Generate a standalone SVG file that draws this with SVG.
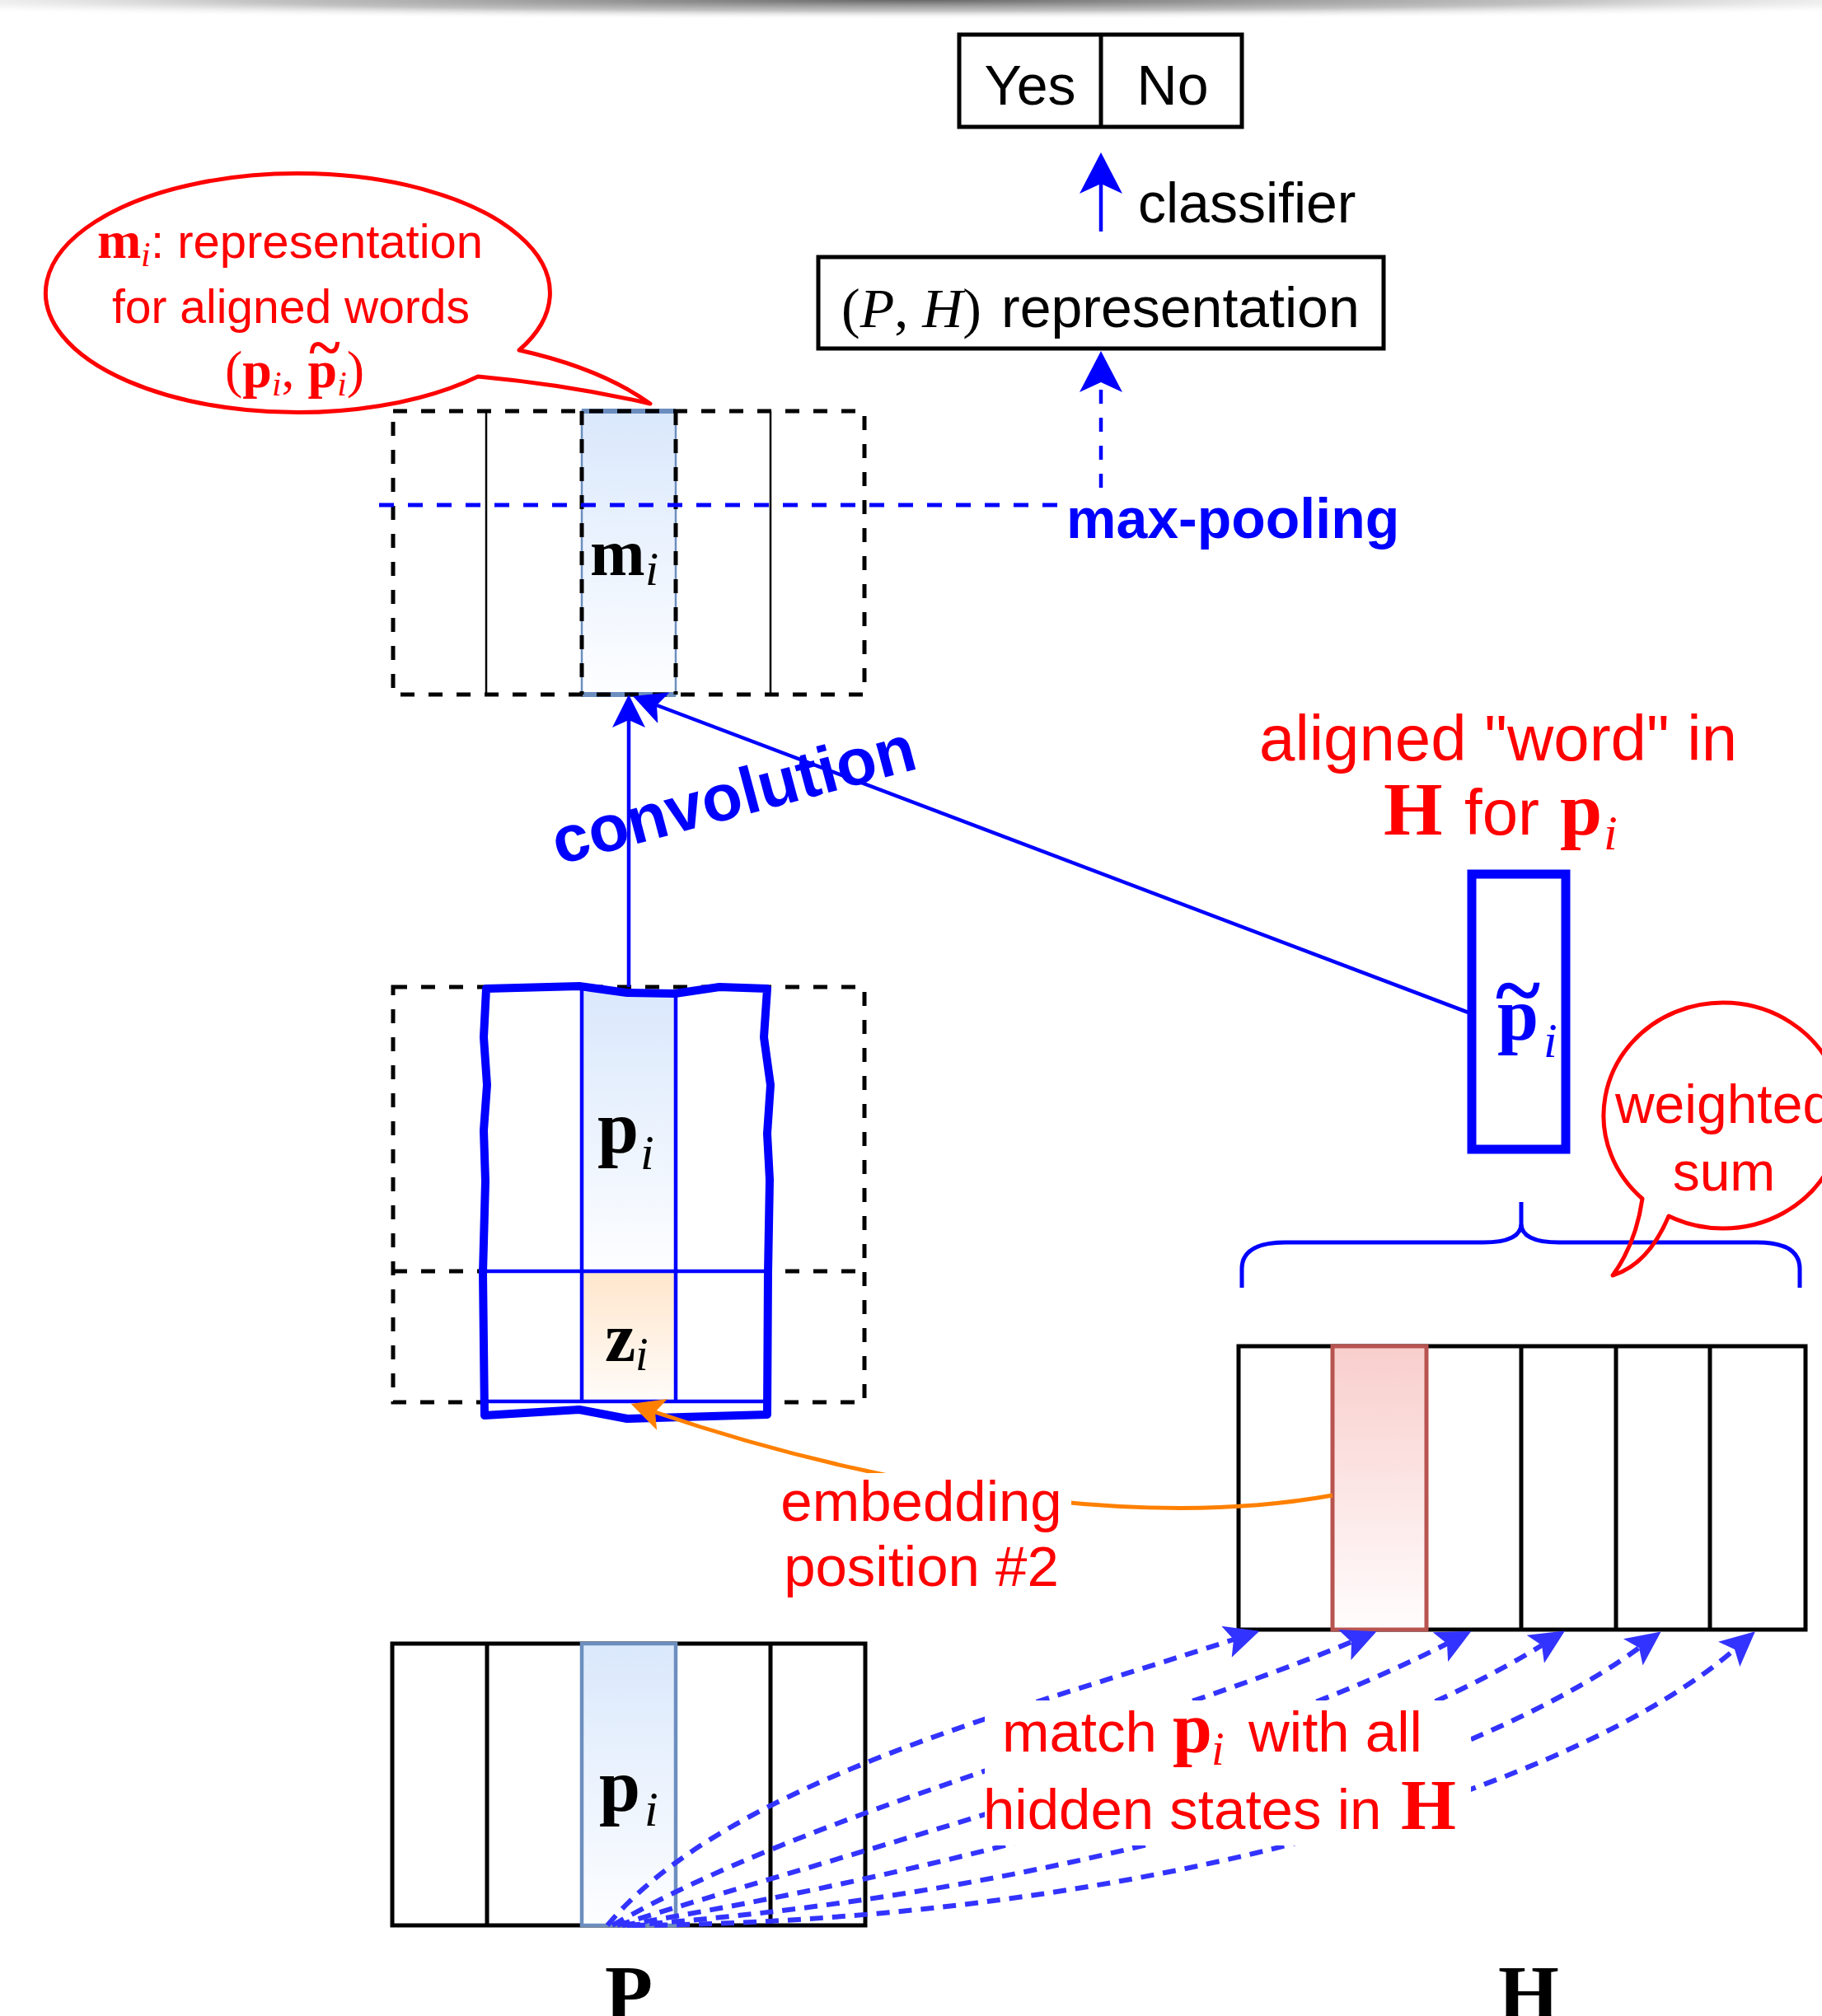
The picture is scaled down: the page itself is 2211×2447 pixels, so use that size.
<svg xmlns="http://www.w3.org/2000/svg" width="2211" height="2447" viewBox="0 0 2211 2447">
<style>
.s{font-family:"Liberation Sans",Arial,sans-serif}
.m{font-family:"Liberation Serif","Times New Roman",serif}
.b{font-weight:bold}
.i{font-style:italic}
.box{fill:#fff;stroke:#000;stroke-width:5}
.ln{stroke:#000;stroke-width:5;fill:none}
.dash{stroke:#000;stroke-width:5;fill:none;stroke-dasharray:17 17}
.bl{stroke:#0000FF;stroke-width:4.5;fill:none}
.match{stroke:#3333FF;stroke-width:6;fill:none;stroke-dasharray:16 11}
.red{fill:#FF0000}
.blue{fill:#0000FF}
</style>
<defs>
<radialGradient id="shadow" cx="0.5" cy="0.5" r="0.5" fx="0.5" fy="0.5">
<stop offset="0" stop-color="#666" stop-opacity="1"/>
<stop offset="0.55" stop-color="#999" stop-opacity="0.6"/>
<stop offset="1" stop-color="#fff" stop-opacity="0"/>
</radialGradient>
<linearGradient id="gBlue" x1="0" y1="0" x2="0" y2="1"><stop offset="0" stop-color="#dae8fc"/><stop offset="1" stop-color="#fdfeff"/></linearGradient>
<linearGradient id="gOrange" x1="0" y1="0" x2="0" y2="1"><stop offset="0" stop-color="#ffe6cc"/><stop offset="1" stop-color="#fffcf9"/></linearGradient>
<linearGradient id="gRed" x1="0" y1="0" x2="0" y2="1"><stop offset="0" stop-color="#f8cecc"/><stop offset="1" stop-color="#fffdfd"/></linearGradient>
<marker id="aBlue" viewBox="0 0 40 40" refX="9" refY="20" markerWidth="40" markerHeight="40" markerUnits="userSpaceOnUse" orient="auto"><path d="M0,0 L40,20 L0,40 L9,20 Z" fill="#0000FF"/></marker>
<marker id="aBlueL" viewBox="0 0 50 52" refX="12" refY="26" markerWidth="50" markerHeight="52" markerUnits="userSpaceOnUse" orient="auto"><path d="M0,0 L50,26 L0,52 L12,26 Z" fill="#0000FF"/></marker>
<marker id="aOrange" viewBox="0 0 40 40" refX="9" refY="20" markerWidth="40" markerHeight="40" markerUnits="userSpaceOnUse" orient="auto"><path d="M0,0 L40,20 L0,40 L9,20 Z" fill="#FF8000"/></marker>
<marker id="aMatch" viewBox="0 0 42 40" refX="9" refY="20" markerWidth="42" markerHeight="40" markerUnits="userSpaceOnUse" orient="auto"><path d="M0,0 L42,20 L0,40 L9,20 Z" fill="#3333FF"/></marker>
</defs>

<rect x="0" y="0" width="2211" height="2447" fill="#fff"/>
<ellipse cx="1105" cy="0" rx="1450" ry="24" fill="url(#shadow)"/>

<g id="yesno">
<rect class="box" x="1164" y="42" width="343" height="112"/>
<line class="ln" x1="1336" y1="42" x2="1336" y2="154"/>
<text class="s" x="1250" y="127" font-size="68" text-anchor="middle">Yes</text>
<text class="s" x="1423" y="127" font-size="68" text-anchor="middle">No</text>
</g>

<g id="ph-rep">
<rect class="box" x="993" y="312" width="686" height="111"/>
<text y="397" font-size="68"><tspan class="m" x="1021">(</tspan><tspan class="m i">P</tspan><tspan class="m">, </tspan><tspan class="m i">H</tspan><tspan class="m">)</tspan><tspan class="s" x="1215">representation</tspan></text>
</g>

<g id="m-grid">
<rect x="706" y="499" width="114" height="344" fill="url(#gBlue)" stroke="#6c8ebf" stroke-width="2.5"/>
<line x1="706" y1="499" x2="820" y2="499" stroke="#6c8ebf" stroke-width="6"/>
<line x1="706" y1="843" x2="820" y2="843" stroke="#6c8ebf" stroke-width="6"/>
<rect class="dash" x="477" y="499" width="572" height="344"/>
<line x1="590" y1="499" x2="590" y2="843" stroke="#000" stroke-width="2.5"/>
<line x1="935" y1="499" x2="935" y2="843" stroke="#000" stroke-width="2.5"/>
<line class="dash" x1="706" y1="499" x2="706" y2="843"/>
<line class="dash" x1="820" y1="499" x2="820" y2="843"/>
<text><tspan class="m b" x="716" y="698" font-size="80">m</tspan><tspan class="m i" x="783" y="710" font-size="58">i</tspan></text>
</g>

<g id="p-window">
<rect class="dash" x="477" y="1198" width="572" height="504"/>
<line class="dash" x1="477" y1="1543" x2="1049" y2="1543"/>
<path d="M590,1200 L703,1197 L761,1205 L819,1206 L873,1198 L931,1200 L927,1259 L935,1317 L931,1376 L934,1432 L932,1545 L931,1717 L761,1722 L703,1711 L588,1718 L586,1545 L589,1434 L587,1372 L591,1317 L587,1259 Z" fill="#fff"/>
<rect x="706" y="1204" width="114" height="339" fill="url(#gBlue)"/>
<rect x="706" y="1543" width="114" height="158" fill="url(#gOrange)"/>
<line class="bl" x1="706" y1="1200" x2="706" y2="1701"/>
<line class="bl" x1="820" y1="1205" x2="820" y2="1701"/>
<line class="bl" x1="586" y1="1543" x2="934" y2="1543"/>
<line class="bl" x1="586" y1="1701" x2="934" y2="1701"/>
<path d="M590,1200 L703,1197 L761,1205 L819,1206 L873,1198 L931,1200 L927,1259 L935,1317 L931,1376 L934,1432 L932,1545 L931,1717 L761,1722 L703,1711 L588,1718 L586,1545 L589,1434 L587,1372 L591,1317 L587,1259 Z" fill="none" stroke="#0000FF" stroke-width="10" stroke-linejoin="round"/>
<text><tspan class="m b" x="725" y="1399" font-size="90">p</tspan><tspan class="m i" x="777" y="1419" font-size="60">i</tspan></text>
<text><tspan class="m b" x="734" y="1652" font-size="84">z</tspan><tspan class="m i" x="771" y="1663" font-size="56">i</tspan></text>
</g>

<g id="p-tilde">
<rect x="1786" y="1061" width="114" height="334" fill="#fff" stroke="#0000FF" stroke-width="11"/>
<text class="m b blue" x="1842" y="1236" font-size="104" text-anchor="middle">~</text>
<text class="blue"><tspan class="m b" x="1817" y="1262" font-size="90">p</tspan><tspan class="m i" x="1873" y="1283" font-size="60">i</tspan></text>
</g>

<g id="H-seq">
<rect class="box" x="1503" y="1634" width="688" height="344"/>
<rect x="1617" y="1634" width="114" height="344" fill="url(#gRed)" stroke="#b85450" stroke-width="5"/>
<line class="ln" x1="1846" y1="1634" x2="1846" y2="1978"/>
<line class="ln" x1="1961" y1="1634" x2="1961" y2="1978"/>
<line class="ln" x1="2075" y1="1634" x2="2075" y2="1978"/>
</g>

<g id="P-seq">
<rect class="box" x="476" y="1995" width="574" height="342"/>
<line class="ln" x1="591" y1="1995" x2="591" y2="2337"/>
<line class="ln" x1="935" y1="1995" x2="935" y2="2337"/>
<rect x="706" y="1995" width="114" height="342" fill="url(#gBlue)" stroke="#6c8ebf" stroke-width="4.5"/>
<text><tspan class="m b" x="727" y="2198" font-size="90">p</tspan><tspan class="m i" x="782" y="2216" font-size="60">i</tspan></text>
</g>

<g id="brace">
<path d="M1507,1563 L1507,1540 Q1507,1508 1560,1508 L1800,1508 Q1846,1508 1846,1485 L1846,1459 M1846,1485 Q1846,1508 1892,1508 L2132,1508 Q2184,1508 2184,1540 L2184,1563" fill="none" stroke="#0000FF" stroke-width="5"/>
</g>

<g id="connectors">
<line class="bl" x1="1336" y1="281" x2="1336" y2="223" marker-end="url(#aBlueL)"/>
<line x1="1336" y1="592" x2="1336" y2="464" stroke="#0000FF" stroke-width="4.5" stroke-dasharray="17 17" marker-end="url(#aBlueL)"/>
<line x1="460" y1="613" x2="1294" y2="613" stroke="#0000FF" stroke-width="5" stroke-dasharray="18 17"/>
<line class="bl" x1="763" y1="1198" x2="763" y2="874" marker-end="url(#aBlue)"/>
<line class="bl" x1="1782" y1="1229" x2="797" y2="856" marker-end="url(#aBlue)"/>
<path d="M1617,1815 C1368,1860 1045,1799 795,1714" fill="none" stroke="#FF8000" stroke-width="5" marker-end="url(#aOrange)"/>
<path class="match" d="M737,2337 C880,2165 1231,2077 1497,1990" marker-end="url(#aMatch)"/>
<path class="match" d="M743,2337 C984,2198 1388,2098 1640,1993" marker-end="url(#aMatch)"/>
<path class="match" d="M749,2337 C1088,2232 1517,2118 1756,1995" marker-end="url(#aMatch)"/>
<path class="match" d="M755,2337 C1192,2265 1648,2136 1871,1997" marker-end="url(#aMatch)"/>
<path class="match" d="M761,2337 C1296,2299 1783,2151 1989,2000" marker-end="url(#aMatch)"/>
<path class="match" d="M767,2337 C1400,2332 1916,2166 2105,2002" marker-end="url(#aMatch)"/>
</g>

<g id="labels">
<text class="s" x="1381" y="270" font-size="68">classifier</text>
<text class="s b blue" x="1294" y="653" font-size="68">max-pooling</text>
<text class="s b blue" x="897" y="991" font-size="80" text-anchor="middle" transform="rotate(-15 897 991)">convolution</text>
<text class="s red" x="1528" y="923" font-size="78">aligned &quot;word&quot; in</text>
<text class="red"><tspan class="m b" x="1679" y="1013" font-size="92">H</tspan><tspan class="s" x="1777" y="1013" font-size="78">for</tspan><tspan class="m b" x="1893" y="1013" font-size="92">p</tspan><tspan class="m i" x="1946" y="1031" font-size="60">i</tspan></text>
<rect x="945" y="1788" width="355" height="157" fill="#fff"/>
<text class="s red" x="1118" y="1846" font-size="69" text-anchor="middle">embedding</text>
<text class="s red" x="1118" y="1925" font-size="69" text-anchor="middle">position #2</text>
<rect x="1195" y="2064" width="590" height="176" fill="#fff"/>
<text class="red"><tspan class="s" x="1216" y="2126" font-size="69">match</tspan><tspan class="m b" x="1423" y="2126" font-size="86">p</tspan><tspan class="m i" x="1470" y="2142" font-size="56">i</tspan><tspan class="s" x="1515" y="2126" font-size="69">with all</tspan></text>
<text class="red"><tspan class="s" x="1193" y="2220" font-size="69">hidden states in </tspan><tspan class="m b" x="1700" y="2220" font-size="86">H</tspan></text>
<text class="m b" x="763" y="2452" font-size="95" text-anchor="middle">P</text>
<text class="m b" x="1855" y="2452" font-size="95" text-anchor="middle">H</text>
</g>

<g id="bubble-m">
<path d="M580,457 A306 145 0 1 1 630,425 Q729,447 789,490 Q689,467 580,457 Z" fill="#fff" stroke="#FF0000" stroke-width="5" stroke-linejoin="round"/>
<text class="red"><tspan class="m b" x="118" y="313" font-size="64">m</tspan><tspan class="m i" x="171" y="323" font-size="42">i</tspan><tspan class="s" x="183" y="313" font-size="58">: representation</tspan></text>
<text class="s red" x="353" y="392" font-size="57" text-anchor="middle">for aligned words</text>
<text class="red" y="470" font-size="64"><tspan class="m" x="273">(</tspan><tspan class="m b">p</tspan><tspan class="m i" font-size="42" dy="10">i</tspan><tspan class="m" dy="-10">, </tspan><tspan class="m b">p</tspan><tspan class="m i" font-size="42" dy="10">i</tspan><tspan class="m" dy="-10">)</tspan></text>
<text class="m b red" x="394" y="446" font-size="72" text-anchor="middle">~</text>
</g>

<g id="bubble-w">
<path d="M1993,1455 A145 137 0 1 1 2025,1476 Q2000,1535 1957,1548 Q1985,1510 1993,1455 Z" fill="none" stroke="#FF0000" stroke-width="5" stroke-linejoin="round"/>
<text class="s red" x="2092" y="1363" font-size="66" text-anchor="middle">weighted</text>
<text class="s red" x="2092" y="1445" font-size="66" text-anchor="middle">sum</text>
</g>
</svg>
